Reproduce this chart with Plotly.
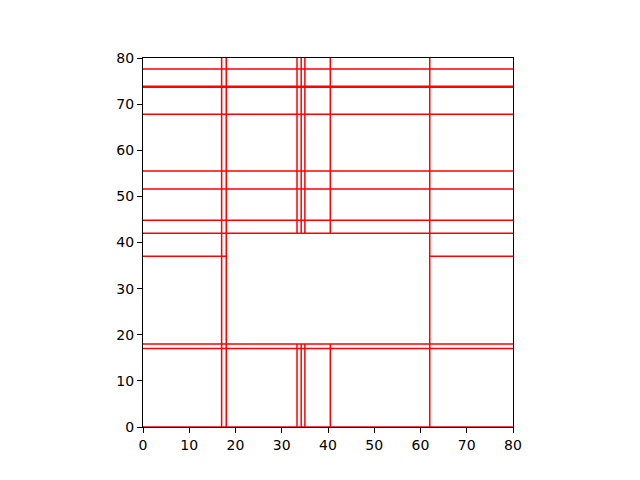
import plotly.graph_objects as go

# vertical walls running the full height
full_x = [17, 18, 62]
# vertical walls broken by the open block between y=18 and y=42
split_x = [33.3, 34.2, 35, 40.5]
split_x_spans = [(0, 18), (42, 80)]

# horizontal walls running the full width
full_y = [0, 17, 18, 42, 44.8, 51.6, 55.5, 67.8, 73.65, 73.9, 77.6]
# horizontal walls broken by the open block between x=18 and x=62
split_y = [37]
split_y_spans = [(0, 18), (62, 80)]

xs, ys = [], []
for x in full_x:
    xs += [x, x, None]
    ys += [0, 80, None]
for x in split_x:
    for a, b in split_x_spans:
        xs += [x, x, None]
        ys += [a, b, None]
for y in full_y:
    xs += [0, 80, None]
    ys += [y, y, None]
for y in split_y:
    for a, b in split_y_spans:
        xs += [a, b, None]
        ys += [y, y, None]

fig = go.Figure(go.Scatter(x=xs, y=ys, mode="lines",
                           line=dict(color="red", width=1.5),
                           hoverinfo="skip", showlegend=False))

ax = dict(range=[0, 80], tickvals=list(range(0, 81, 10)), showgrid=False,
          zeroline=False, showline=True, linecolor="black", linewidth=1,
          mirror=True, ticks="outside", ticklen=5, tickcolor="black",
          tickfont=dict(family="DejaVu Sans", size=14, color="black"))
fig.update_xaxes(**ax)
fig.update_yaxes(**ax)
fig.update_layout(width=640, height=480, plot_bgcolor="white", paper_bgcolor="white",
                  margin=dict(l=135, r=135, t=50, b=61))
fig.write_html("out.html")
